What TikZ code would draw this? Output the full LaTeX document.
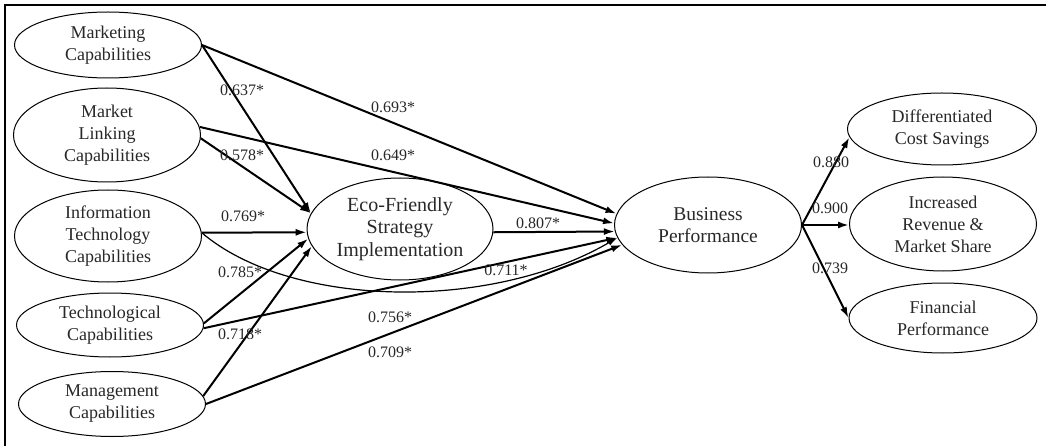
\documentclass[tikz,border=0pt]{standalone}
\usepackage{fontspec}
\setmainfont{Liberation Serif}
\usetikzlibrary{shapes.geometric,arrows.meta}
\definecolor{txt}{RGB}{40,40,40}
\begin{document}
\begin{tikzpicture}[x=1pt,y=-1pt,
  lat/.style={ellipse,draw,line width=1pt,inner sep=0pt,minimum width=187pt,align=center,font=\fontsize{18}{22}\selectfont,text=txt},
  pth/.style={line width=2pt,-{Latex[length=11pt,width=7pt]}},
  thinpth/.style={line width=1.2pt,-{Latex[length=10pt,width=6pt]}},
  coef/.style={font=\fontsize{16}{18}\selectfont,text=txt,inner sep=0pt}]
\useasboundingbox (0,0) rectangle (1046,446);
\fill[white] (0,0) rectangle (1046,446);
\draw[line width=2pt] (5,446) -- (5,5) -- (1046,5);

% nodes
\node[lat,minimum height=66pt] (mc) at (108,45) {Marketing\\Capabilities};
\node[lat,minimum height=94pt] (ml) at (107,135) {Market\\Linking\\Capabilities};
\node[lat,minimum height=92pt] (it) at (108,236) {Information\\Technology\\Capabilities};
\node[lat,minimum height=64pt] (tc) at (110,325) {Technological\\Capabilities};
\node[lat,minimum height=65pt] (mg) at (112,404) {Management\\Capabilities};
\node[lat,minimum width=186pt,minimum height=102pt,font=\fontsize{20}{22.5}\selectfont] (eco) at (400,229) {Eco-Friendly\\Strategy\\Implementation};
\node[lat,minimum height=96pt,font=\fontsize{19.5}{22}\selectfont] (bp) at (708,225) {Business\\Performance};
\node[lat,minimum width=189pt,minimum height=72pt] (dc) at (942,129) {Differentiated\\Cost Savings};
\node[lat,minimum height=94pt] (ir) at (943,224) {Increased\\Revenue \&\\Market Share};
\node[lat,minimum width=188pt,minimum height=70pt] (fp) at (943,318) {Financial\\Performance};

% connectors
\draw[pth] (mc.east) -- (eco.170);
\draw[pth] (mc.east) -- (bp.173);
\draw[pth] (ml.-2) -- (eco.170);
\draw[pth] (ml.5) -- (bp.179);
\draw[pth] (it.2.5) -- (eco.182);
\draw[thinpth] (it.2.5) .. controls (290,308) and (490,312) .. (bp.188);
\draw[pth] (tc.1) -- (eco.186);
\draw[pth] (tc.-2.5) -- (bp.188);
\draw[pth] (mg.5) -- (eco.191);
\draw[pth] (mg.0) -- (bp.193);
\draw[pth] (eco.-2) -- (bp.184);
\draw[pth] (bp.east) -- (dc.185);
\draw[pth] (bp.east) -- (ir.west |- bp.east);
\draw[pth] (bp.east) -- (fp.west);

% coefficients
\node[coef] (l1) at (242,90) {0.637*};
\node[coef] (l2) at (242,155) {0.578*};
\node[coef] (l3) at (243,216) {0.769*};
\node[coef] (l4) at (240,272) {0.785*};
\node[coef] (l5) at (240,334) {0.718*};
\node[coef] (l6) at (393,107) {0.693*};
\node[coef] (l7) at (393,155) {0.649*};
\node[coef] (l8) at (538,223) {0.807*};
\node[coef] (l9) at (506,270) {0.711*};
\node[coef] (l10) at (390,317) {0.756*};
\node[coef] (l11) at (390,352) {0.709*};
\node[coef] (l12) at (831,162) {0.880};
\node[coef] (l13) at (830,208) {0.900};
\node[coef] (l14) at (830,268) {0.739};
\end{tikzpicture}
\end{document}
